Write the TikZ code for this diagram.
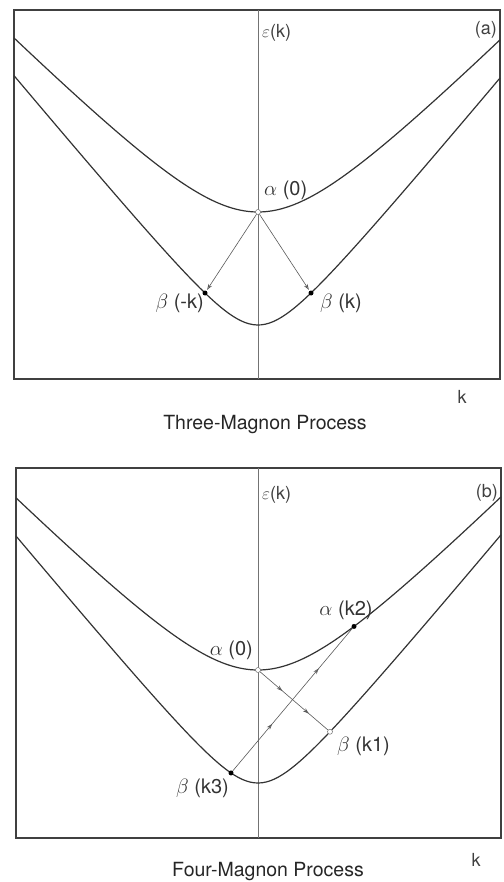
\documentclass[tikz,border=0pt]{standalone}
\usepackage{fontspec}
\setmainfont{TeX Gyre Heros}
\usetikzlibrary{arrows.meta,decorations.markings}

\tikzset{
  frame/.style={line width=1.8pt, draw=black!75},
  axisline/.style={line width=0.6pt, draw=black!55},
  band/.style={line width=1.2pt, draw=black!80},
  trans/.style={line width=0.6pt, draw=black!65},
  lbl/.style={font=\fontsize{20}{23}\selectfont, text=black!80, inner sep=0pt},
  smalllbl/.style={font=\fontsize{18}{21}\selectfont, text=black!75, inner sep=0pt},
  caption/.style={font=\fontsize{19.5}{22}\selectfont, text=black!85, inner sep=0pt},
  fulldot/.style={circle, fill=black, inner sep=0pt, minimum size=5pt},
  opendot/.style={circle, draw=black!55, fill=white, inner sep=0pt, minimum size=5pt, line width=0.5pt},
  opentip/.style={-{Stealth[open,length=6pt,width=4pt]}, shorten >=1pt},
  midtips/.style={postaction={decorate}, decoration={markings,
      mark=at position 0.33 with {\arrow{Stealth[open,length=6pt,width=4pt]}},
      mark=at position 0.72 with {\arrow{Stealth[open,length=6pt,width=4pt]}}}}
}

\begin{document}
\begin{tikzpicture}[x=1pt, y=-1pt,
    declare function={up(\t)=10*sqrt(8.4*8.4+(\t/10)*(\t/10))-84;
                      lo(\t)=10*sqrt(4.72*4.72+(0.12*\t)*(0.12*\t))-47.2;}]
  \useasboundingbox (0,0) rectangle (503,882);

  % (a) three-magnon process
  \draw[frame] (14,10) rectangle (500,379);
  \draw[axisline] (258,10) -- (258,379);
  \draw[band] plot[domain=-244:242, samples=121] ({258+\x},{212-up(\x)});
  \draw[band] plot[domain=-244:242, samples=121] ({258+\x},{325-lo(\x)});
  \node[fulldot] (bmk) at ({258-53},{325-lo(-53)}) {};
  \node[fulldot] (bk) at ({258+53},{325-lo(53)}) {};
  \node[opendot] (a0) at (258,212) {};
  \draw[trans, opentip] (a0) -- (bmk);
  \draw[trans, opentip] (a0) -- (bk);
  \node[lbl, anchor=west] (la0) at ([xshift=6pt,yshift=22pt]a0) {$\alpha$ (0)};
  \node[lbl, anchor=east] (lbmk) at ([xshift=-1pt,yshift=-10pt]bmk) {$\beta$ (-k)};
  \node[lbl, anchor=west] (lbk) at ([xshift=9pt,yshift=-10pt]bk) {$\beta$ (k)};
  \node[smalllbl, anchor=west] (epsa) at (262,33) {$\varepsilon$(k)};
  \node[smalllbl, anchor=east] (taga) at (497,30) {(a)};
  \node[smalllbl] (ka) at (462,397) {k};
  \node[caption] (capa) at (265,425) {Three-Magnon Process};

  % (b) four-magnon process
  \draw[frame] (16,468) rectangle (501,838);
  \draw[axisline] (258,468) -- (258,838);
  \draw[band] plot[domain=-242:243, samples=121] ({258+\x},{670-up(\x)});
  \draw[band] plot[domain=-242:243, samples=121] ({258+\x},{783-lo(\x)});
  \node[opendot] (a0b) at (258,670) {};
  \node[fulldot] (ak2) at ({258+96},{670-up(96)}) {};
  \node[opendot] (bk1) at ({258+72},{783-lo(72)}) {};
  \node[fulldot] (bk3) at ({258-27},{783-lo(-27)}) {};
  \draw[trans, midtips] (a0b) -- (bk1);
  \draw[trans, midtips] (bk3) -- (ak2);
  \node[lbl, anchor=east] (la0b) at ([xshift=-5pt,yshift=20pt]a0b) {$\alpha$ (0)};
  \node[lbl, anchor=south] (lak2) at ([xshift=-8pt,yshift=7pt]ak2) {$\alpha$ (k2)};
  \node[lbl, anchor=west] (lbk1) at ([xshift=7pt,yshift=-15pt]bk1) {$\beta$ (k1)};
  \node[lbl, anchor=east] (lbk3) at ([xshift=-2pt,yshift=-15pt]bk3) {$\beta$ (k3)};
  \node[smalllbl, anchor=west] (epsb) at (262,495) {$\varepsilon$(k)};
  \node[smalllbl, anchor=east] (tagb) at (498,493) {(b)};
  \node[smalllbl] (kb) at (476,860) {k};
  \node[caption] (capb) at (268,872) {Four-Magnon Process};
\end{tikzpicture}
\end{document}
